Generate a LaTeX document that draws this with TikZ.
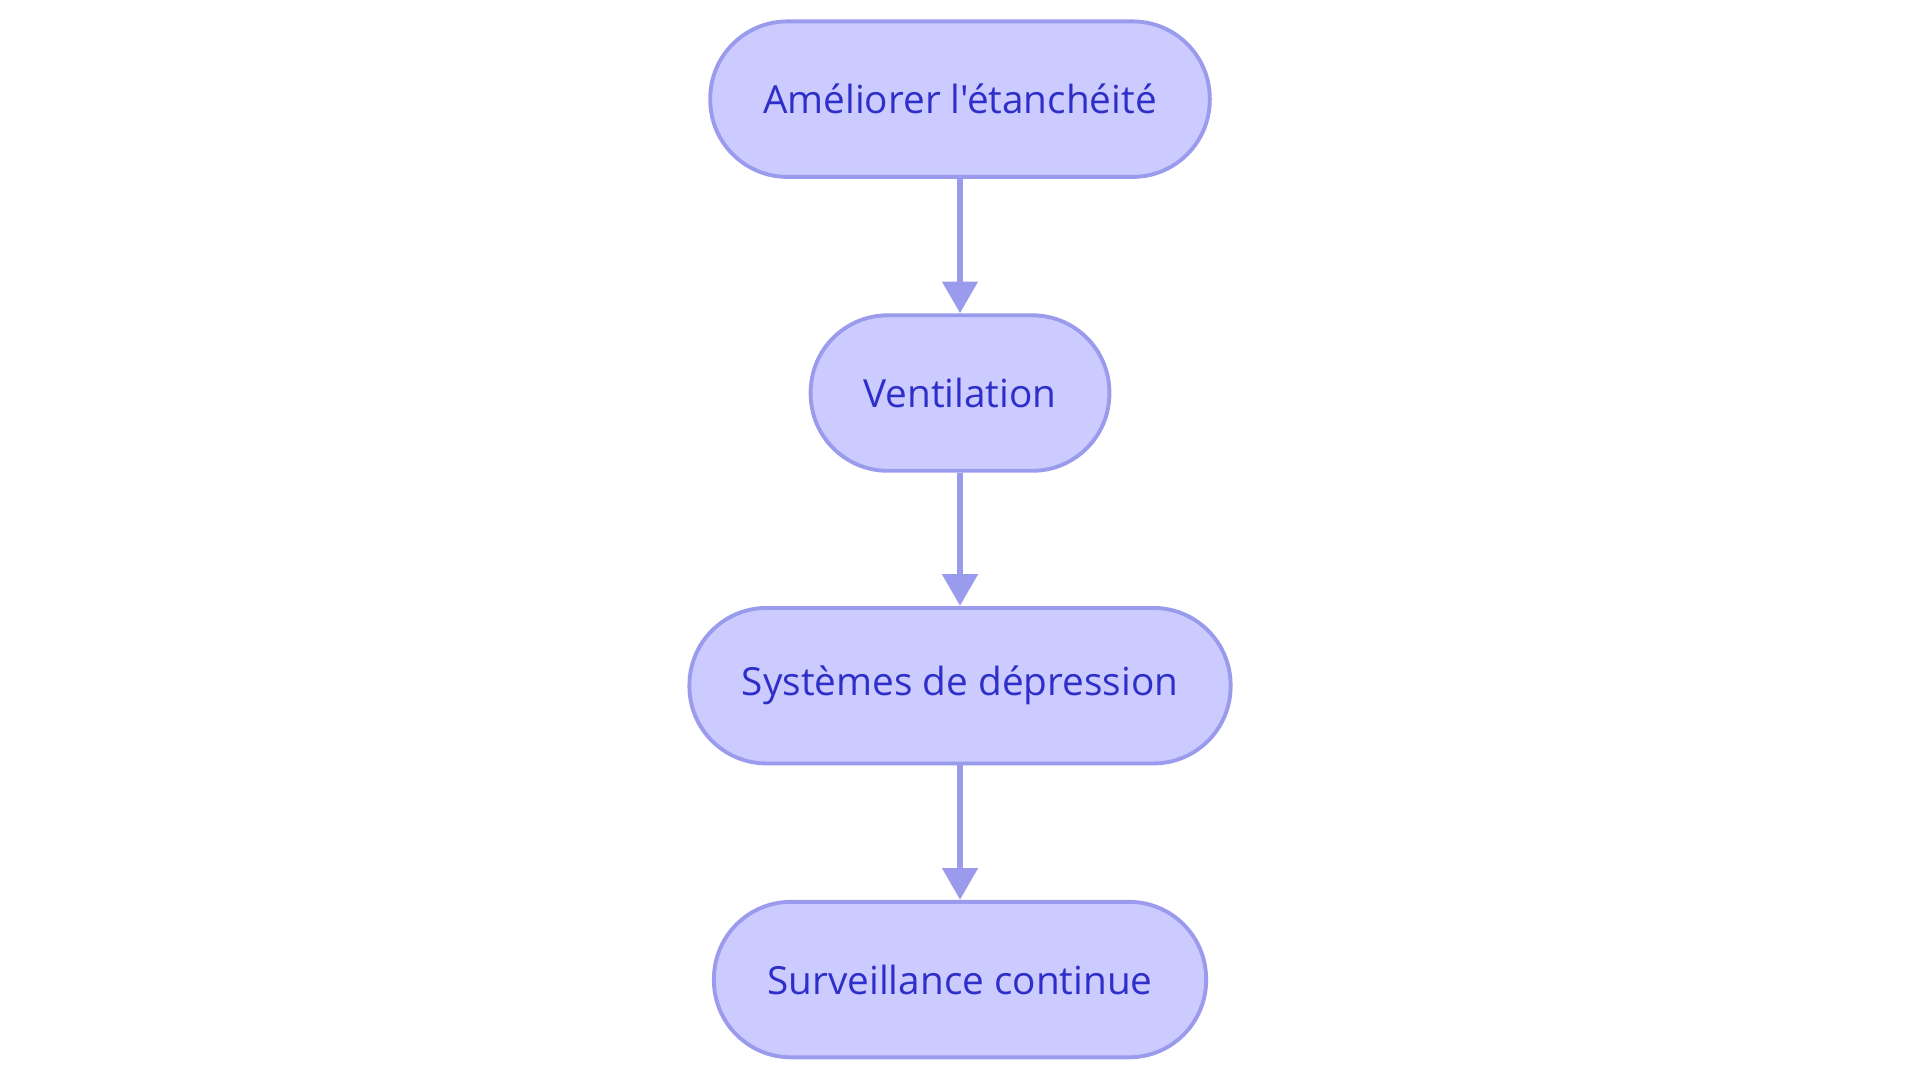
\documentclass[tikz,border=0pt]{standalone}
\usepackage{fontspec}
\newfontfamily\etiquette{Open Sans}
\usepackage{tikz}
\usetikzlibrary{arrows.meta}
\usetikzlibrary{positioning}
\definecolor{boxfill}{HTML}{CBCBFF}
\definecolor{boxline}{HTML}{9B9BEE}
\definecolor{boxtext}{HTML}{2E2EC8}
\tikzset{
    etape/.style = {draw=boxline, fill=boxfill, text=boxtext, line width=0.9pt,
        rounded corners=0.63cm, minimum height=1.27cm, font=\etiquette\fontsize{9}{11}\selectfont},
    fleche/.style = {draw=boxline, line width=1.6pt, arrows = -{Triangle[length=2.6mm, width=2.8mm]}}
}
\begin{document}
\begin{tikzpicture}
        \useasboundingbox (0,0) rectangle (15.68,8.84);
        %   \draw [help lines] (0,0) grid (16,9);
        \node [etape, minimum width=4.08cm] (ameliorer) at (7.84,8.03) {Améliorer l'étanchéité};
        \node [etape, minimum width=2.44cm] (ventilation) at (7.84,5.63) {Ventilation};
        \node [etape, minimum width=4.42cm] (depression) at (7.84,3.24) {Systèmes de dépression};
        \node [etape, minimum width=4.02cm] (surveillance) at (7.84,0.84) {Surveillance continue};

        \draw [fleche] (ameliorer) -- (ventilation);
        \draw [fleche] (ventilation) -- (depression);
        \draw [fleche] (depression) -- (surveillance);
    \end{tikzpicture}
\end{document}
